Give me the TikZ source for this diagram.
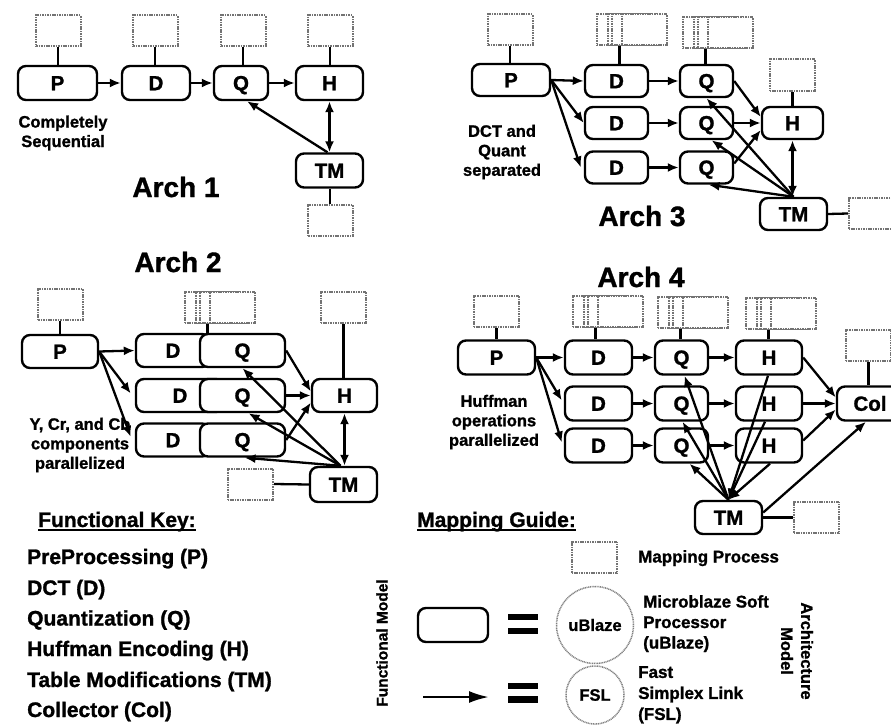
\documentclass[tikz,border=0pt]{standalone}
\usepackage{fontspec}
\setmainfont{Liberation Sans}[BoldFeatures={FakeBold=1.2}]
\usetikzlibrary{arrows.meta,calc}
\newcommand\stackbox[3]{%
  \node[mp] (#1) at (#2+22.5,#3) {};
  \node[mp] (#1-b) at (#2+33.5,#3) {};
  \node[mp] (#1-c) at (#2+37.5,#3) {};
  \node[mp] (#1-d) at (#2+47.5,#3) {};
}
\begin{document}
\begin{tikzpicture}[x=1pt,y=-1pt,
  fn/.style={draw,line width=2.4pt,rounded corners=8pt,fill=white,minimum height=34pt,inner sep=0pt,
             text height=14.5pt,text depth=0pt,
             font=\fontsize{20.5}{22}\selectfont\bfseries},
  mp/.style={draw=black!55,dash pattern=on 1.1pt off 0.6pt,line width=2pt,fill=white,
             minimum width=45pt,minimum height=31pt,inner sep=0pt},
  ln/.style={line width=2.3pt},
  ar/.style={line width=2.3pt,-{Latex[length=11pt,width=9pt]}},
  dar/.style={line width=2.3pt,{Latex[length=11pt,width=9pt]}-{Latex[length=11pt,width=9pt]}},
  ann/.style={font=\fontsize{16.5}{19.5}\selectfont\bfseries,align=center,inner sep=0pt},
  head/.style={font=\fontsize{28}{32}\selectfont\bfseries,inner sep=0pt},
  key/.style={font=\fontsize{21}{24}\selectfont\bfseries,anchor=base west,inner sep=0pt},
  lg/.style={font=\fontsize{17}{20.5}\selectfont\bfseries,inner sep=0pt},
]
\useasboundingbox (0,0) rectangle (891,725);
\clip (0,0) rectangle (891,725);

% ================= Arch 1 =================
\node[mp] (P1m) at (58,31) {};
\node[mp] (D1m) at (155,31) {};
\node[mp] (Q1m) at (243,31) {};
\node[mp] (H1m) at (330,31) {};
\node[mp] (TM1m) at (330,220) {};
\node[fn,minimum width=79pt] (P1) at (57.5,83) {P};
\node[fn,minimum width=68pt] (D1) at (156,83) {D};
\node[fn,minimum width=54pt] (Q1) at (241,83) {Q};
\node[fn,minimum width=67pt] (H1) at (329.5,83) {H};
\node[fn,minimum width=67pt] (TM1) at (329.5,170.5) {TM};
\foreach \a/\b in {P1m/P1,D1m/D1,Q1m/Q1,H1m/H1}
  \draw[ln] (\a.south) -- (\a.south |- \b.north);
\draw[ln] (TM1m.north) -- (TM1m.north |- TM1.south);
\draw[ar] (P1) -- (D1);
\draw[ar] (D1) -- (Q1);
\draw[ar] (Q1) -- (H1);
\draw[ar] ($(TM1.north)+(-2,0)$) -- ($(Q1.south)+(6,0)$);
\draw[dar] (H1) -- (TM1);
\node[ann] (t1) at (63,133) {Completely\\Sequential};
\node[head] (h1) at (176,187) {Arch 1};

% ================= Arch 3 =================
\node[mp] (P3m) at (510,30) {};
\stackbox{D3m}{597}{30}
\stackbox{Q3m}{683}{33}
\node[mp] (H3m) at (792.5,75) {};
\node[mp] (TM3m) at (871.5,213.5) {};
\begin{scope}[fn/.append style={minimum height=32pt}]
\node[fn,minimum width=78pt] (P3) at (511,80) {P};
\node[fn,minimum width=63pt] (D31) at (616.5,81) {D};
\node[fn,minimum width=63pt] (D32) at (616.5,123) {D};
\node[fn,minimum width=63pt] (D33) at (616.5,167.5) {D};
\node[fn,minimum width=53pt] (Q31) at (706.5,81) {Q};
\node[fn,minimum width=53pt] (Q32) at (706.5,123) {Q};
\node[fn,minimum width=53pt] (Q33) at (706.5,167.5) {Q};
\node[fn,minimum width=61pt] (H3) at (792.5,123) {H};
\node[fn,minimum width=67pt] (TM3) at (793.5,214) {TM};
\end{scope}
\draw[ln] (P3m.south) -- (P3m.south |- P3.north);
\draw[ln] (D3m.south) -- (D3m.south |- D31.north);
\draw[ln] (Q3m.south) -- (Q3m.south |- Q31.north);
\draw[ln] (H3m.south) -- (H3m.south |- H3.north);
\draw[ln] (TM3.east) -- (TM3m.west);
\draw[ar] (P3.east) -- (D31.west);
\draw[ar] (P3.east) -- (D32.west);
\draw[ar] (P3.east) -- ($(D33.west)+(-3,0)$);
\draw[ar] (D31) -- (Q31);
\draw[ar] (D32) -- (Q32);
\draw[ar] (D33) -- (Q33);
\draw[ar] (Q31.east) -- ($(H3.west)+(0,-6)$);
\draw[ar] (Q32.east) -- (H3.west);
\draw[ar] ($(Q33.east)+(0,-4)$) -- ($(H3.west)+(0,7)$);
\draw[ar] (TM3.north) -- (Q31.south);
\draw[ar] (TM3.north) -- ($(Q32.south)+(5,0)$);
\draw[ar] (TM3.north) -- ($(Q33.south)+(2,0)$);
\draw[dar] (H3.south) -- (H3.south |- TM3.north);
\node[ann] (t3) at (502,152) {DCT and\\Quant\\separated};
\node[head] (h3) at (642,216) {Arch 3};

% ================= Arch 2 =================
\node[head] (h2) at (178,262) {Arch 2};
\node[mp] (P2m) at (60,304) {};
\stackbox{DQ2m}{185}{307}
\node[mp] (H2m) at (343.5,307) {};
\node[mp] (TM2m) at (250.5,484) {};
\begin{scope}[fn/.append style={minimum height=33pt}]
\node[fn,minimum width=76pt] (P2) at (60,351.5) {P};
\node[fn,minimum width=74pt] (D21) at (173,350.5) {D};
\node[fn,minimum width=88pt] (D22) at (180,395.5) {D};
\node[fn,minimum width=74pt] (D23) at (173,440) {D};
\node[fn,minimum width=85pt] (Q21) at (242.5,350.5) {Q};
\node[fn,minimum width=85pt] (Q22) at (242.5,395.5) {Q};
\node[fn,minimum width=85pt] (Q23) at (242.5,440) {Q};
\node[fn,minimum width=65pt] (H2) at (344.5,395.5) {H};
\node[fn,minimum width=67pt,minimum height=35pt] (TM2) at (343.5,484.5) {TM};
\end{scope}
\draw[ln] (P2m.south) -- (P2m.south |- P2.north);
\draw[ln] (DQ2m.south) -- (DQ2m.south |- D21.north);
\draw[ln] (H2m.south) -- (H2m.south |- H2.north);
\draw[ln] (TM2m.east) -- (TM2.west);
\draw[ar] (P2.east) -- (D21.west);
\draw[ar] (P2.east) -- ($(D22.west)+(-4,-2)$);
\draw[ar] (P2.east) -- ($(D23.west)+(-4,-3)$);
\draw[ar] (Q21.east) -- ($(H2.west)+(0,-4)$);
\draw[ar] (Q22.east) -- (H2.west);
\draw[ar] (Q23.east) -- ($(H2.west)+(0,7)$);
\draw[ar] ($(TM2.north)+(-3,0)$) -- (Q21.south);
\draw[ar] ($(TM2.north)+(-3,0)$) -- ($(Q22.south)+(6,0)$);
\draw[ar] ($(TM2.north)+(-3,0)$) -- ($(Q23.south)+(2,0)$);
\draw[dar] (H2.south) -- (H2.south |- TM2.north);
\node[ann] (t2) at (80,445) {Y, Cr, and Cb\\components\\parallelized};

% ================= Arch 4 =================
\node[head] (h4) at (641,277) {Arch 4};
\node[mp] (P4m) at (496.5,311) {};
\stackbox{D4m}{573}{311}
\stackbox{Q4m}{658}{312}
\stackbox{H4m}{746}{313}
\node[mp] (C4m) at (868.5,345) {};
\node[mp] (TM4m) at (816.5,517.5) {};
\node[fn,minimum width=77pt] (P4) at (496.5,357.5) {P};
\node[fn,minimum width=67pt] (D41) at (598.5,357.5) {D};
\node[fn,minimum width=67pt] (D42) at (598.5,403.5) {D};
\node[fn,minimum width=67pt] (D43) at (598.5,445.5) {D};
\node[fn,minimum width=53pt] (Q41) at (681.5,357.5) {Q};
\node[fn,minimum width=53pt] (Q42) at (681.5,403.5) {Q};
\node[fn,minimum width=53pt] (Q43) at (681.5,445.5) {Q};
\node[fn,minimum width=66pt] (H41) at (769,357.5) {H};
\node[fn,minimum width=66pt] (H42) at (769,403.5) {H};
\node[fn,minimum width=66pt] (H43) at (769,445.5) {H};
\node[fn,minimum width=66pt] (Col) at (870,403.5) {Col};
\node[fn,minimum width=67pt,minimum height=33pt] (TM4) at (728.5,517.5) {TM};
\draw[ln] (P4m.south) -- (P4m.south |- P4.north);
\draw[ln] (D4m.south) -- (D4m.south |- D41.north);
\draw[ln] (Q4m.south) -- (Q4m.south |- Q41.north);
\draw[ln] (H4m.south) -- (H4m.south |- H41.north);
\draw[ln] (C4m.south) -- (C4m.south |- Col.north);
\draw[ln] (TM4.east) -- (TM4m.west);
\draw[ar] (P4.east) -- (D41.west);
\draw[ar] (P4.east) -- ($(D42.west)+(-2,-3)$);
\draw[ar] (P4.east) -- ($(D43.west)+(-2,-3)$);
\foreach \r in {1,2,3} {
  \draw[ar] (D4\r) -- (Q4\r);
  \draw[ar] (Q4\r) -- (H4\r);
}
\draw[ar] (H41.east) -- ($(Col.west)+(0,-6)$);
\draw[ar] (H42.east) -- (Col.west);
\draw[ar] ($(H43.east)+(0,-5)$) -- ($(Col.west)+(0,6)$);
\draw[ar] (TM4.north) -- ($(Q41.south)+(3,0)$);
\draw[ar] (TM4.north) -- ($(Q42.south)+(1,0)$);
\draw[ar] (TM4.north) -- ($(Q43.south)+(8,0)$);
\draw[ar] ($(H41.south)+(-1,0)$) -- (TM4.north);
\draw[ar] ($(H42.south)+(-4,0)$) -- (TM4.north);
\draw[ar] ($(H43.south)+(1,0)$) -- (TM4.north);
\draw[ar] ($(TM4.east)+(0,-5)$) -- ($(Col.south)+(-4,0)$);
\node[ann] (t4) at (494,422) {Huffman\\operations\\parallelized};

% ================= Functional key =================
\node[key] (fk) at (38,527) {Functional Key:};
\draw[line width=1.8pt] ($(fk.base west)+(0,3)$) -- ($(fk.base east)+(0,3)$);
\node[key] (k1) at (27,564) {PreProcessing (P)};
\node[key] (k2) at (27,595) {DCT (D)};
\node[key] (k3) at (27,625.5) {Quantization (Q)};
\node[key] (k4) at (27,656) {Huffman Encoding (H)};
\node[key] (k5) at (27,687) {Table Modifications (TM)};
\node[key] (k6) at (27,717) {Collector (Col)};
\node[font=\fontsize{15.5}{18}\selectfont\bfseries,rotate=90,inner sep=0pt] (fm) at (382,643) {Functional Model};

% ================= Mapping guide =================
\node[key] (mg) at (417,527) {Mapping Guide:};
\draw[line width=1.8pt] ($(mg.base west)+(0,3)$) -- ($(mg.base east)+(0,3)$);
\node[mp] (lgm) at (594.5,557.5) {};
\node[lg,anchor=base west] (lgmt) at (638,562.5) {Mapping Process};
\node[fn,minimum width=70pt] (lgf) at (453,625) {};
\coordinate (la) at (423,697);
\coordinate (lb) at (489,697);
\draw[line width=2.6pt,-{Latex[length=20pt,width=12pt]}] (la) -- (lb);
\fill (508,613.5) rectangle (538,620);
\fill (508,627.5) rectangle (538,634);
\fill (508,682.5) rectangle (538,689);
\fill (508,696) rectangle (538,702.5);
\node[circle,draw=black!50,dash pattern=on 1pt off 0.7pt,line width=1.5pt,minimum size=77pt,inner sep=0pt,
      font=\fontsize{16.5}{19}\selectfont\bfseries] (ub) at (595,625) {uBlaze};
\node[circle,draw=black!50,dash pattern=on 1pt off 0.7pt,line width=1.5pt,minimum size=58pt,inner sep=0pt,
      font=\fontsize{16.5}{19}\selectfont\bfseries] (fsl) at (595,695) {FSL};
\node[lg,anchor=north west,align=left] (ubt) at (643,595) {Microblaze Soft\\Processor\\(uBlaze)};
\node[lg,anchor=north west,align=left,font=\fontsize{17}{21}\selectfont\bfseries] (fslt) at (638,666) {Fast\\Simplex Link\\(FSL)};
\node[lg,rotate=-90,align=center,font=\fontsize{16.5}{20}\selectfont\bfseries] (am) at (797,651) {Architecture\\Model};
\end{tikzpicture}
\end{document}
